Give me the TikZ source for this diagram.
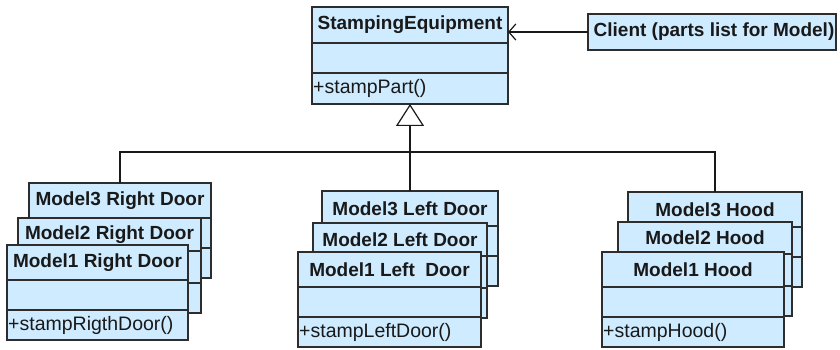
\documentclass[tikz,border=0pt]{standalone}
\usepackage{fontspec}
\setmainfont{Liberation Sans}
\usetikzlibrary{arrows.meta}
\definecolor{boxfill}{RGB}{206,235,255}
\definecolor{boxline}{RGB}{45,45,45}
\tikzset{
  umlbox/.style={draw=boxline, fill=boxfill, line width=1.4pt, rectangle, inner sep=0pt, outer sep=0pt},
  umlsep/.style={draw=boxline, line width=1.2pt},
  umltitle/.style={font=\fontsize{19}{21}\selectfont\bfseries, inner sep=0pt, text=black!90},
  umlop/.style={font=\fontsize{19.5}{21}\selectfont, inner sep=0pt, text=black!90},
  conn/.style={draw=black!90, line width=1.2pt},
}
% #1 name, #2 left x, #3 top y, #4 width, #5 title, #6 operation, #7 title h, #8 attr h, #9 ops h
\newcommand\umlclass[9]{%
  \node[umlbox, anchor=north west, minimum width=#4pt, minimum height=#7pt+#8pt+#9pt] (#1) at (#2,#3) {};
  \draw[umlsep] ([yshift=-#7pt]#1.north west) -- ([yshift=-#7pt]#1.north east);
  \draw[umlsep] ([yshift=#9pt]#1.south west) -- ([yshift=#9pt]#1.south east);
  \node[umltitle] (#1-t) at ([yshift=-0.5*#7pt]#1.north) {#5};
  \node[umlop, anchor=west] (#1-o) at ([yshift=0.5*#9pt, xshift=1pt]#1.south west) {#6};
}
\begin{document}
\begin{tikzpicture}[x=1pt,y=-1pt]
\useasboundingbox (0,0) rectangle (840,350);

% top class
\umlclass{se}{312}{7}{196}{StampingEquipment}{+stampPart()}{36}{30}{31}

% client
\node[umlbox, anchor=north west, minimum width=248pt, minimum height=36pt] (client) at (588,14) {};
\node[umltitle] (client-t) at ([xshift=2pt]client.center) {Client (parts list for Model)};
\draw[conn, -{Straight Barb[length=7pt, width=16pt]}] (client.west) -- (client.west -| se.east);

% inheritance connectors
\coordinate (lvl) at (0,152);
\coordinate (join) at (se.south |- lvl);
\umlclass{rd3}{29}{183}{182}{Model3 Right Door}{}{35}{30}{30}
\umlclass{ld3}{322}{191}{176}{Model3 Left Door}{}{35}{30}{30}
\umlclass{hd3}{628}{192}{174}{Model3 Hood}{}{35}{30}{30}
\draw[conn] (rd3.north) |- (join);
\draw[conn] (hd3.north) |- (join);
\draw[conn] (ld3.north) -- (ld3.north |- join);
\draw[conn, -{Triangle[length=22pt, width=28pt, fill=white]}] (join) -- (se.south);

% second layer
\umlclass{rd2}{18}{218}{183}{Model2 Right Door}{}{33}{32}{30}
\umlclass{ld2}{313}{223}{174}{Model2 Left Door}{}{33}{32}{30}
\umlclass{hd2}{618}{222}{174}{Model2 Hood}{}{32}{32}{30}

% front layer
\umlclass{rd1}{7}{245}{181}{Model1 Right Door}{+stampRigthDoor()}{35}{30}{30}
\umlclass{ld1}{298}{252}{183}{Model1 Left\ \ Door}{+stampLeftDoor()}{35}{30}{30}
\umlclass{hd1}{602}{252}{182}{Model1 Hood}{+stampHood()}{35}{30}{30}
\end{tikzpicture}
\end{document}
